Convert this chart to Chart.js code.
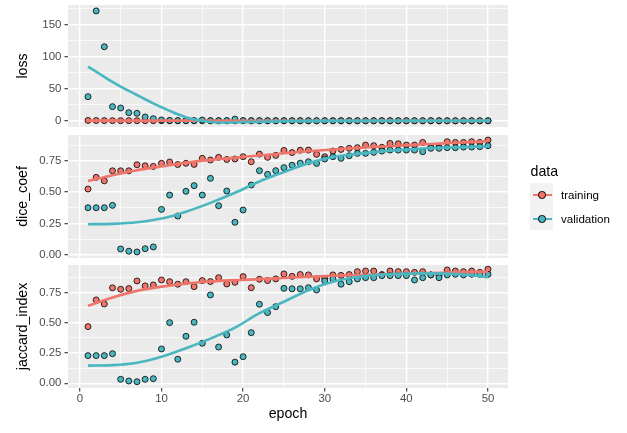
<!DOCTYPE html>
<html>
<head>
<meta charset="utf-8">
<script src="https://cdn.jsdelivr.net/npm/chart.js@4.4.1/dist/chart.umd.min.js"></script>
<style>
    html, body { margin: 0; padding: 0; background: #fff; }
    #wrap { position: relative; width: 627px; height: 433px; font-family: "Liberation Sans", Arial, sans-serif; }
    #wrap canvas { position: absolute; left: 0; top: 0; }
    .ltitle { position: absolute; left: 530.5px; top: 163.5px; font-size: 14.2px; line-height: 1; color: #000; }
    .lkeys { position: absolute; left: 530px; top: 183px; width: 23px; height: 47px; background: #F2F2F2; }
    .lline { position: absolute; left: 532.7px; width: 19px; height: 2.6px; }
    .ldot { position: absolute; left: 538.4px; width: 5.4px; height: 5.4px; border: 0.8px solid #000; border-radius: 50%; }
    .llab { position: absolute; left: 561px; font-size: 11.6px; line-height: 1; color: #000; }
</style>
</head>
<body>
<div id="wrap">
    <canvas id="pLoss" width="627" height="433"></canvas>
    <canvas id="pDice" width="627" height="433"></canvas>
    <canvas id="pJac" width="627" height="433"></canvas>

    <div class="ltitle">data</div>
    <div class="lkeys"></div>
    <div class="lline" style="top:193.5px;background:#EF756B"></div>
    <div class="ldot" style="top:191.3px;background:#EF756B"></div>
    <div class="llab" style="top:189px">training</div>
    <div class="lline" style="top:217.5px;background:#4AB7C0"></div>
    <div class="ldot" style="top:215.3px;background:#4AB7C0"></div>
    <div class="llab" style="top:212.8px">validation</div>
</div>
<script>
(function () {
    "use strict";

    const RED = "#EF756B";
    const TEAL = "#4AB7C0";
    const FONT = "'Liberation Sans', Arial, sans-serif";

    // epochs 1..50
    const epochs = Array.from({ length: 50 }, (_, i) => i + 1);
    const xTicks = [0, 5, 10, 15, 20, 25, 30, 35, 40, 45, 50];

    // loss
    const lossTrain = [0.9, 0.7, 0.6, 0.55, 0.5, 0.5, 0.45, 0.45, 0.4, 0.4,
        0.4, 0.38, 0.36, 0.35, 0.34, 0.33, 0.32, 0.31, 0.3, 0.3,
        0.29, 0.28, 0.28, 0.27, 0.26, 0.26, 0.25, 0.25, 0.24, 0.24,
        0.23, 0.23, 0.22, 0.22, 0.21, 0.21, 0.2, 0.2, 0.2, 0.19,
        0.19, 0.19, 0.18, 0.18, 0.18, 0.17, 0.17, 0.17, 0.16, 0.16];
    const lossValid = [38, 172, 116, 22.4, 20.3, 13, 12, 6.3, 3.6, 1.6,
        0.8, 0.6, 0.5, 0.5, 1.5, 0.5, 0.5, 0.6, 3, 0.6,
        0.5, 0.5, 0.45, 0.4, 0.45, 0.4, 0.4, 0.45, 0.4, 0.4,
        0.4, 0.45, 0.4, 0.4, 0.4, 0.4, 0.45, 0.4, 0.4, 0.4,
        0.4, 0.4, 0.45, 0.4, 0.4, 0.4, 0.4, 0.4, 0.4, 0.45];
    const lossTrainSmoothX = [1, 25, 50];
    const lossTrainSmooth = [0.6, 0.3, 0.2];
    const lossValidSmoothX = [1, 2, 3, 4, 5, 6, 7, 8, 9, 10, 11, 12, 13, 14, 15, 16, 18, 20, 25, 30, 40, 50];
    const lossValidSmooth = [85, 77, 69, 61, 53.6, 47, 40.6, 34, 27.6, 21.5, 16, 10.5, 6, 2.5, 0, -1.5, -2.3, -1.8, -0.5, 0.2, 0.3, 0.3];

    // dice_coef
    const diceTrain = [0.525, 0.618, 0.59, 0.67, 0.67, 0.67, 0.718, 0.71, 0.705, 0.73,
        0.74, 0.72, 0.73, 0.721, 0.769, 0.756, 0.777, 0.76, 0.764, 0.782,
        0.742, 0.803, 0.777, 0.793, 0.832, 0.815, 0.834, 0.835, 0.801, 0.782,
        0.827, 0.84, 0.849, 0.854, 0.875, 0.87, 0.857, 0.888, 0.885, 0.875,
        0.875, 0.896, 0.86, 0.862, 0.902, 0.896, 0.896, 0.902, 0.896, 0.915];
    const diceValid = [0.376, 0.376, 0.376, 0.395, 0.048, 0.03, 0.024, 0.05, 0.064, 0.363,
        0.477, 0.31, 0.507, 0.552, 0.477, 0.61, 0.392, 0.509, 0.26, 0.358,
        0.557, 0.671, 0.642, 0.671, 0.695, 0.714, 0.731, 0.742, 0.729, 0.764,
        0.782, 0.769, 0.79, 0.809, 0.809, 0.817, 0.827, 0.835, 0.835, 0.835,
        0.835, 0.822, 0.849, 0.849, 0.854, 0.854, 0.859, 0.859, 0.862, 0.87];

    // jaccard_index
    const jacTrain = [0.469, 0.69, 0.656, 0.79, 0.778, 0.784, 0.847, 0.806, 0.814, 0.855,
        0.841, 0.82, 0.841, 0.8, 0.85, 0.842, 0.874, 0.822, 0.836, 0.883,
        0.791, 0.861, 0.85, 0.864, 0.905, 0.885, 0.9, 0.897, 0.864, 0.869,
        0.897, 0.893, 0.9, 0.924, 0.929, 0.929, 0.9, 0.929, 0.924, 0.924,
        0.918, 0.924, 0.897, 0.893, 0.938, 0.929, 0.924, 0.929, 0.918, 0.944];
    const jacValid = [0.229, 0.229, 0.229, 0.245, 0.033, 0.019, 0.013, 0.033, 0.038, 0.284,
        0.502, 0.199, 0.389, 0.505, 0.331, 0.731, 0.3, 0.4, 0.175, 0.22,
        0.419, 0.654, 0.585, 0.634, 0.786, 0.782, 0.782, 0.791, 0.772, 0.847,
        0.864, 0.82, 0.841, 0.864, 0.874, 0.874, 0.891, 0.891, 0.891, 0.891,
        0.855, 0.874, 0.897, 0.874, 0.897, 0.902, 0.897, 0.902, 0.902, 0.902];

    const smoothX = [1, 4, 7, 10, 13, 16, 19, 22, 25, 28, 31, 34, 37, 40, 43, 46, 50];
    const diceTrainSmooth = [0.588, 0.635, 0.675, 0.705, 0.735, 0.757, 0.775, 0.792, 0.81, 0.826, 0.84, 0.852, 0.863, 0.873, 0.883, 0.893, 0.905];
    const diceValidSmooth = [0.245, 0.248, 0.26, 0.29, 0.345, 0.415, 0.495, 0.585, 0.66, 0.73, 0.78, 0.805, 0.825, 0.84, 0.851, 0.858, 0.865];
    const jacTrainSmooth = [0.642, 0.71, 0.765, 0.8, 0.825, 0.842, 0.853, 0.862, 0.872, 0.882, 0.89, 0.896, 0.902, 0.907, 0.912, 0.918, 0.924];
    const jacValidSmooth = [0.146, 0.15, 0.17, 0.22, 0.29, 0.37, 0.46, 0.58, 0.675, 0.77, 0.84, 0.88, 0.9, 0.908, 0.91, 0.905, 0.878];

    const loss_yTicks = [0, 25, 50, 75, 100, 125, 150, 175];
    const frac_yTicks = [0, 0.125, 0.25, 0.375, 0.5, 0.625, 0.75, 0.875];

    const pts = (xs, ys) => ys.map((y, i) => ({ x: xs[i], y: y }));
    const isMajor = (v, step) => Math.abs(v / step - Math.round(v / step)) < 1e-6;

    // grey panel background
    const panelBg = {
        id: "panelBg",
        beforeDraw(chart) {
            const { ctx, chartArea: a } = chart;
            ctx.save();
            ctx.fillStyle = "#EBEBEB";
            ctx.fillRect(a.left, a.top, a.right - a.left, a.bottom - a.top);
            ctx.restore();
        },
    };

    function makePanel(id, cfg) {
        const ctx = document.getElementById(id).getContext("2d");
        const dot = (data, color, order) => ({
            data: data,
            backgroundColor: color,
            borderColor: "#000",
            borderWidth: 0.8,
            pointRadius: 3,
            pointHoverRadius: 3,
            order: order,
        });
        const smooth = (data, color, order) => ({
            data: data,
            showLine: true,
            borderColor: color,
            borderWidth: 2.6,
            pointRadius: 0,
            cubicInterpolationMode: "monotone",
            order: order,
        });

        return new Chart(ctx, {
            type: "scatter",
            data: {
                datasets: [
                    dot(pts(epochs, cfg.train), RED, 4),
                    dot(pts(epochs, cfg.valid), TEAL, 3),
                    smooth(pts(cfg.trainSmoothX, cfg.trainSmooth), RED, 2),
                    smooth(pts(cfg.validSmoothX, cfg.validSmooth), TEAL, 1),
                ],
            },
            options: {
                responsive: false,
                animation: false,
                devicePixelRatio: 1,
                layout: {
                    padding: { left: 0, right: 627 - 508, top: cfg.top, bottom: cfg.showX ? 0 : 433 - cfg.bottom },
                },
                plugins: {
                    legend: { display: false },
                    tooltip: { enabled: false },
                },
                scales: {
                    x: {
                        type: "linear",
                        min: -1.45,
                        max: 52.45,
                        afterBuildTicks: (s) => { s.ticks = xTicks.map((v) => ({ value: v })); },
                        afterFit: (s) => {
                            s.height = cfg.showX ? 433 - cfg.bottom : 0;
                            s.paddingLeft = 0;
                            s.paddingRight = 0;
                        },
                        border: { display: false },
                        grid: {
                            color: "#FFFFFF",
                            lineWidth: (c) => (isMajor(c.tick.value, 10) ? 1.4 : 0.7),
                            drawTicks: cfg.showX,
                            tickLength: 3.5,
                            tickWidth: 1.1,
                            tickColor: (c) => (isMajor(c.tick.value, 10) ? "#333333" : "rgba(0,0,0,0)"),
                        },
                        ticks: {
                            display: cfg.showX,
                            autoSkip: false,
                            maxRotation: 0,
                            padding: 1.6,
                            color: "#4D4D4D",
                            font: { family: FONT, size: 11.4, lineHeight: 1 },
                            callback: (v) => (isMajor(v, 10) ? String(v) : ""),
                        },
                        title: {
                            display: cfg.showX,
                            text: "epoch",
                            color: "#000",
                            font: { family: FONT, size: 14.2, lineHeight: 1 },
                            padding: { top: 0, bottom: 11.6 },
                        },
                    },
                    y: {
                        min: cfg.yMin,
                        max: cfg.yMax,
                        afterBuildTicks: (s) => { s.ticks = cfg.yTicks.map((v) => ({ value: v })); },
                        afterFit: (s) => {
                            s.width = 68;
                            s.paddingTop = 0;
                            s.paddingBottom = 0;
                        },
                        border: { display: false },
                        grid: {
                            color: "#FFFFFF",
                            lineWidth: (c) => (isMajor(c.tick.value, cfg.yStep) ? 1.4 : 0.7),
                            tickLength: 3.5,
                            tickWidth: 1.1,
                            tickColor: (c) => (isMajor(c.tick.value, cfg.yStep) ? "#333333" : "rgba(0,0,0,0)"),
                        },
                        ticks: {
                            autoSkip: false,
                            padding: 3.2,
                            color: "#4D4D4D",
                            font: { family: FONT, size: 11.4, lineHeight: 1 },
                            callback: (v) => (isMajor(v, cfg.yStep) ? cfg.fmt(v) : ""),
                        },
                        title: {
                            display: true,
                            text: cfg.title,
                            color: "#000",
                            font: { family: FONT, size: 14.2, lineHeight: 1 },
                            padding: { top: 15.8, bottom: 0 },
                        },
                    },
                },
            },
            plugins: [panelBg],
        });
    }

    makePanel("pLoss", {
        title: "loss", top: 5, bottom: 127, showX: false,
        yMin: -9.4, yMax: 181.25, yStep: 50, yTicks: loss_yTicks, fmt: (v) => String(v),
        train: lossTrain, valid: lossValid,
        trainSmoothX: lossTrainSmoothX, trainSmooth: lossTrainSmooth,
        validSmoothX: lossValidSmoothX, validSmooth: lossValidSmooth,
    });

    makePanel("pDice", {
        title: "dice_coef", top: 135, bottom: 258, showX: false,
        yMin: -0.024, yMax: 0.955, yStep: 0.25, yTicks: frac_yTicks, fmt: (v) => v.toFixed(2),
        train: diceTrain, valid: diceValid,
        trainSmoothX: smoothX, trainSmooth: diceTrainSmooth,
        validSmoothX: smoothX, validSmooth: diceValidSmooth,
    });

    makePanel("pJac", {
        title: "jaccard_index", top: 265, bottom: 388, showX: true,
        yMin: -0.039, yMax: 0.979, yStep: 0.25, yTicks: frac_yTicks, fmt: (v) => v.toFixed(2),
        train: jacTrain, valid: jacValid,
        trainSmoothX: smoothX, trainSmooth: jacTrainSmooth,
        validSmoothX: smoothX, validSmooth: jacValidSmooth,
    });
})();
</script>
</body>
</html>
